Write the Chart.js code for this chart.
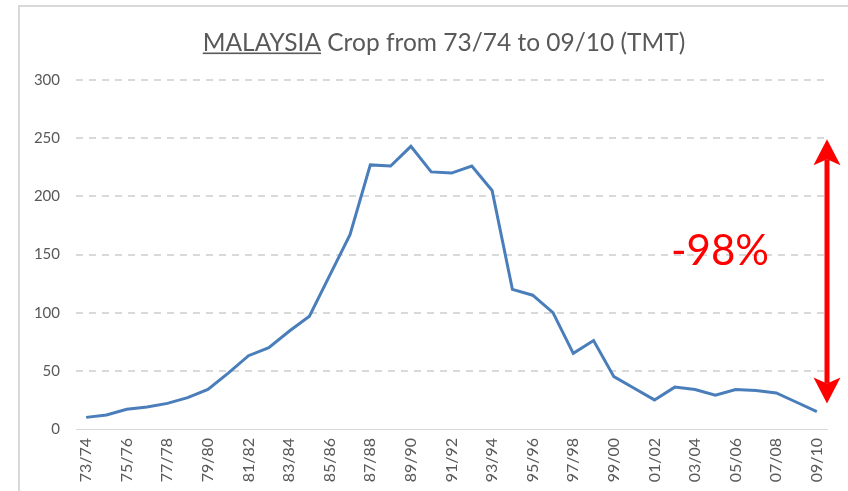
<!DOCTYPE html>
<html>
<head>
<meta charset="utf-8">
<script src="https://cdn.jsdelivr.net/npm/chart.js@4/dist/chart.umd.min.js"></script>
<style>
  html, body { margin: 0; padding: 0; background: #fff; }
  #wrap { position: relative; width: 848px; height: 491px; }
</style>
</head>
<body>
<div id="wrap"><canvas id="c" width="848" height="491"></canvas></div>
<script>
const categories = ["73/74","74/75","75/76","76/77","77/78","78/79","79/80","80/81","81/82","82/83",
  "83/84","84/85","85/86","86/87","87/88","88/89","89/90","90/91","91/92","92/93",
  "93/94","94/95","95/96","96/97","97/98","98/99","99/00","00/01","01/02","02/03",
  "03/04","04/05","05/06","06/07","07/08","08/09","09/10"];
const cropTMT = [10, 12, 17, 19, 22, 27, 34, 48, 63, 70,
  84, 97, 132, 167, 227, 226, 243, 221, 220, 226,
  205, 120, 115, 100, 65, 76, 45, 35, 25, 36,
  34, 29, 34, 33, 31, 23, 15];
const yTicks = [0, 50, 100, 150, 200, 250, 300];
const titleUnderlined = "MALAYSIA";
const titleRest = " Crop from 73/74 to 09/10 (TMT)";
const changeLabel = "-98%";
const arrowTop = 249;
const arrowBottom = 22;

const FONT = "Lato, 'Open Sans', sans-serif";

const decorPlugin = {
  id: 'decor',
  beforeDraw(chart) {
    const ctx = chart.ctx;
    ctx.save();
    ctx.fillStyle = '#d9d9d9';
    ctx.fillRect(18, 5, 848 - 18, 2);
    ctx.fillRect(18, 5, 2, 491 - 5);
    // title
    ctx.font = "24.5px " + FONT;
    ctx.fillStyle = '#595959';
    ctx.textBaseline = 'alphabetic';
    ctx.textAlign = 'left';
    const w1 = ctx.measureText(titleUnderlined).width;
    const w2 = ctx.measureText(titleRest).width;
    const cx = 444;
    const x0 = cx - (w1 + w2) / 2;
    const by = 50.5;
    ctx.fillText(titleUnderlined, x0, by);
    ctx.fillText(titleRest, x0 + w1, by);
    ctx.fillRect(x0, by + 2, w1, 1.6);
    ctx.restore();
  },
  afterDatasetsDraw(chart) {
    const ctx = chart.ctx;
    const ys = chart.scales.y;
    const ax = chart.chartArea.right;
    const yt = ys.getPixelForValue(arrowTop);
    const yb = ys.getPixelForValue(arrowBottom);
    const headLen = 26, headHalf = 13.5;
    ctx.save();
    ctx.strokeStyle = '#ff0000';
    ctx.fillStyle = '#ff0000';
    ctx.lineWidth = 5;
    ctx.beginPath();
    ctx.moveTo(ax, yt + headLen - 6);
    ctx.lineTo(ax, yb - headLen + 6);
    ctx.stroke();
    ctx.beginPath();
    ctx.moveTo(ax, yt);
    ctx.lineTo(ax - headHalf, yt + headLen);
    ctx.lineTo(ax, yt + headLen - 6);
    ctx.lineTo(ax + headHalf, yt + headLen);
    ctx.closePath();
    ctx.fill();
    ctx.beginPath();
    ctx.moveTo(ax, yb);
    ctx.lineTo(ax - headHalf, yb - headLen);
    ctx.lineTo(ax, yb - headLen + 6);
    ctx.lineTo(ax + headHalf, yb - headLen);
    ctx.closePath();
    ctx.fill();
    // label
    ctx.font = "42px " + FONT;
    ctx.textAlign = 'center';
    ctx.textBaseline = 'alphabetic';
    ctx.fillText(changeLabel, 720, 265);
    ctx.restore();
  }
};

new Chart(document.getElementById('c'), {
  type: 'line',
  data: {
    labels: categories,
    datasets: [{
      data: cropTMT,
      borderColor: '#4a7ebb',
      borderWidth: 3,
      pointRadius: 0,
      tension: 0,
      fill: false
    }]
  },
  options: {
    responsive: false,
    animation: false,
    layout: { padding: { top: 80, right: 21, left: 0, bottom: 0 } },
    plugins: { legend: { display: false }, tooltip: { enabled: false }, title: { display: false } },
    scales: {
      x: {
        type: 'category',
        offset: true,
        grid: { display: false, drawTicks: false },
        border: { display: true, color: '#d9d9d9', width: 1 },
        ticks: {
          autoSkip: false,
          minRotation: 90,
          maxRotation: 90,
          padding: 9,
          color: '#595959',
          font: { family: FONT, size: 16 },
          callback: function(v, i) { return i % 2 === 0 ? categories[i] : ''; }
        },
        afterFit(s) { s.height = 62; }
      },
      y: {
        min: 0,
        max: 300,
        afterBuildTicks(s) { s.ticks = yTicks.map(v => ({ value: v })); },
        grid: {
          color: (c) => c.tick && c.tick.value === 0 ? 'rgba(0,0,0,0)' : '#d9d9d9',
          lineWidth: 2,
          drawTicks: false
        },
        border: { display: false, dash: [7, 6] },
        ticks: {
          padding: 16,
          color: '#595959',
          font: { family: FONT, size: 15 }
        },
        afterFit(s) { s.width = 76; }
      }
    }
  },
  plugins: [decorPlugin]
});
</script>
</body>
</html>
